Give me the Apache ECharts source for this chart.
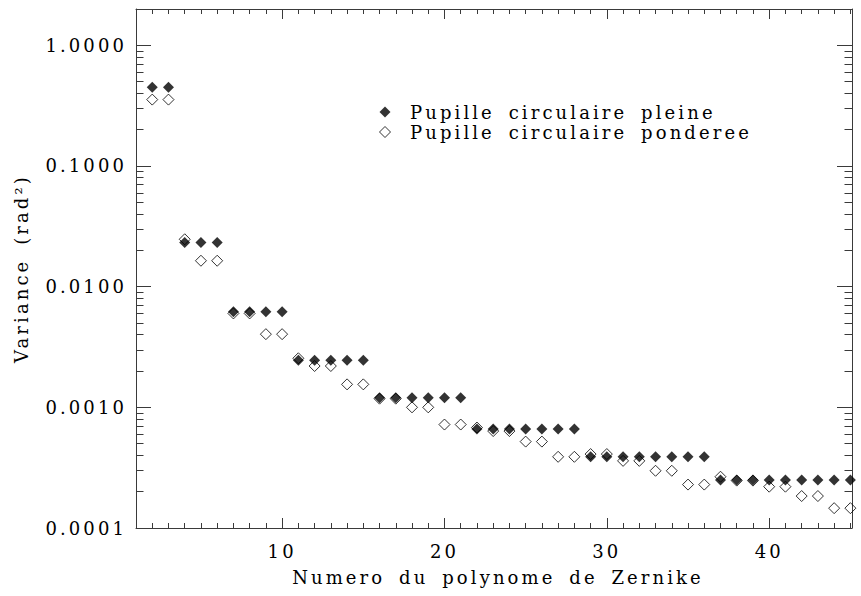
<!DOCTYPE html>
<html>
<head>
<meta charset="utf-8">
<script src="https://cdn.jsdelivr.net/npm/echarts@6/dist/echarts.min.js"></script>
<style>
html,body{margin:0;padding:0;background:#fff;}
#chart{width:861px;height:596px;}
#chart text{letter-spacing:3.1px;word-spacing:5px;}
</style>
</head>
<body>
<div id="chart"></div>
<script>
// Zernike mode numbers
var modes = [2,3,4,5,6,7,8,9,10,11,12,13,14,15,16,17,18,19,20,21,22,23,24,25,26,27,28,29,30,31,32,33,34,35,36,37,38,39,40,41,42,43,44,45];
// Variance, full circular pupil (filled diamonds)
var pleine = [0.449,0.449,
  0.0232,0.0232,0.0232,
  0.00619,0.00619,0.00619,0.00619,
  0.00245,0.00245,0.00245,0.00245,0.00245,
  0.00120,0.00120,0.00120,0.00120,0.00120,0.00120,
  0.00066,0.00066,0.00066,0.00066,0.00066,0.00066,0.00066,
  0.00039,0.00039,0.00039,0.00039,0.00039,0.00039,0.00039,0.00039,
  0.00025,0.00025,0.00025,0.00025,0.00025,0.00025,0.00025,0.00025,0.00025];
// Variance, weighted circular pupil (open diamonds)
var ponderee = [0.355,0.355,
  0.0247,0.0164,0.0164,
  0.0060,0.0060,0.00404,0.00404,
  0.00255,0.0022,0.0022,0.00155,0.00155,
  0.00118,0.00118,0.00100,0.00100,0.00072,0.00072,
  0.00068,0.000636,0.000636,0.00052,0.00052,0.000389,0.000389,
  0.00041,0.00041,0.00036,0.00036,0.000298,0.000298,0.000229,0.000229,
  0.000266,0.000247,0.000247,0.00022,0.00022,0.000184,0.000184,0.000146,0.000146];
// Tick values
var xMajorTicks = [10,20,30,40];
var xMinorTicks = [2,3,4,5,6,7,8,9,11,12,13,14,15,16,17,18,19,21,22,23,24,25,26,27,28,29,31,32,33,34,35,36,37,38,39,41,42,43,44,45];
var yMajorTicks = [0.0001,0.001,0.01,0.1,1];
var yMinorTicks = [0.0002,0.0003,0.0004,0.0005,0.0006,0.0007,0.0008,0.0009,
  0.002,0.003,0.004,0.005,0.006,0.007,0.008,0.009,
  0.02,0.03,0.04,0.05,0.06,0.07,0.08,0.09,
  0.2,0.3,0.4,0.5,0.6,0.7,0.8,0.9];
var seriesNames = ['Pupille circulaire pleine','Pupille circulaire ponderee'];
var xTitle = 'Numero du polynome de Zernike';
var yTitle = 'Variance (rad\u00b2)';

var FONT = 'DejaVu Serif';
var FS = 18;
var LINE = '#3a3a3a';

function pairs(xs, ys){ return xs.map(function(x,i){ return [x, ys[i]]; }); }

function xAxisDef(pos, ticks, len, showLine, showLabel){
  return {
    type:'value', min:1, max:45.1, position:pos,
    axisLine:{show:showLine, lineStyle:{color:LINE, width:1}},
    axisTick:{show:true, inside:true, length:len, customValues:ticks, lineStyle:{color:LINE, width:1}},
    axisLabel:{show:showLabel, customValues:ticks, margin:14, color:'#000', fontFamily:FONT, fontSize:FS},
    splitLine:{show:false}
  };
}
function yAxisDef(pos, ticks, len, showLine, showLabel){
  return {
    type:'log', logBase:10, min:0.0001, max:2, position:pos,
    axisLine:{show:showLine, lineStyle:{color:LINE, width:1}},
    axisTick:{show:true, inside:true, length:len, customValues:ticks, lineStyle:{color:LINE, width:1}},
    axisLabel:{show:showLabel, customValues:ticks, margin:9, color:'#000', fontFamily:FONT, fontSize:FS,
      formatter:function(v){ return Number(v).toFixed(4); }},
    splitLine:{show:false}, minorTick:{show:false}
  };
}

var xb = xAxisDef('bottom', xMajorTicks, 10, true, true);
xb.name = xTitle; xb.nameLocation = 'middle'; xb.nameGap = 40;
xb.nameTextStyle = {color:'#000', fontFamily:FONT, fontSize:FS, padding:[0,0,0,8]};
var yl = yAxisDef('left', yMajorTicks, 15, true, true);
yl.name = yTitle; yl.nameLocation = 'middle'; yl.nameGap = 106;
yl.nameTextStyle = {color:'#000', fontFamily:FONT, fontSize:FS};

var chart = echarts.init(document.getElementById('chart'), null, {renderer:'svg'});
chart.setOption({
  animation:false,
  backgroundColor:'#fff',
  grid:{left:136, right:9, top:9, bottom:68, containLabel:false, outerBoundsMode:'none'},
  legend:{
    orient:'vertical', left:374, top:98, itemWidth:40, itemHeight:11, itemGap:2,
    textStyle:{color:'#000', fontFamily:FONT, fontSize:FS},
    data:[
      {name:seriesNames[0], icon:'path://M0,-1L1,0L0,1L-1,0Z', itemStyle:{color:'#000', borderWidth:0}},
      {name:seriesNames[1], icon:'path://M0,-1L1,0L0,1L-1,0Z', itemStyle:{color:'rgba(0,0,0,0)', borderColor:'#000', borderWidth:1}}
    ]
  },
  xAxis:[
    xb,
    xAxisDef('bottom', xMinorTicks, 5, false, false),
    xAxisDef('top', xMajorTicks, 10, true, false),
    xAxisDef('top', xMinorTicks, 5, false, false)
  ],
  yAxis:[
    yl,
    yAxisDef('left', yMinorTicks, 7.5, false, false),
    yAxisDef('right', yMajorTicks, 15, true, false),
    yAxisDef('right', yMinorTicks, 7.5, false, false)
  ],
  series:[
    {name:seriesNames[0], type:'scatter', xAxisIndex:0, yAxisIndex:0, symbol:'diamond', symbolSize:11,
      itemStyle:{color:'#000'}, emphasis:{disabled:true}, data:pairs(modes, pleine), z:2},
    {name:seriesNames[1], type:'scatter', xAxisIndex:0, yAxisIndex:0, symbol:'diamond', symbolSize:11,
      itemStyle:{color:'rgba(0,0,0,0)', borderColor:'#000', borderWidth:1}, emphasis:{disabled:true}, data:pairs(modes, ponderee), z:3}
  ]
});
</script>
</body>
</html>
